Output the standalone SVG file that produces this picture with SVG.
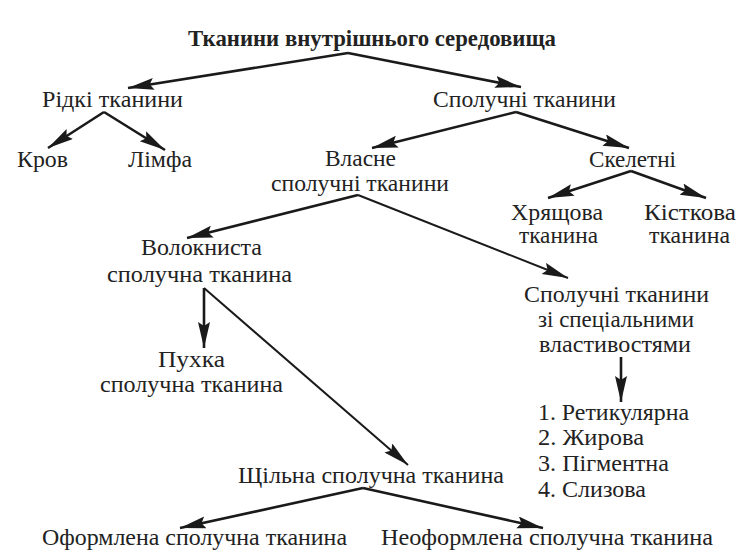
<svg xmlns="http://www.w3.org/2000/svg" width="752" height="559" viewBox="0 0 752 559" font-family="Liberation Serif, DejaVu Serif, serif">
<defs>
<marker id="ah" markerUnits="userSpaceOnUse" markerWidth="28" markerHeight="14" refX="26" refY="6" orient="auto">
<path d="M0,0 L26,6 L0,12 L4,6 z" fill="#1a1a1a"/>
</marker>
<style>
text{font-size:23px;fill:#222;text-anchor:middle}
.t{font-weight:bold}
.l{text-anchor:start}
#connectors line{stroke:#1a1a1a;stroke-width:2.6;marker-end:url(#ah)}
#connectors line.thin{stroke-width:2}
</style>
</defs>
<rect width="752" height="559" fill="#fff"/>
<g id="connectors">
<line x1="348" y1="53" x2="128" y2="88"/>
<line x1="348" y1="53" x2="521" y2="87"/>
<line x1="104" y1="112" x2="48" y2="148"/>
<line x1="104" y1="112" x2="165" y2="150"/>
<line x1="516" y1="112" x2="372" y2="148"/>
<line x1="516" y1="112" x2="629" y2="148"/>
<line x1="631" y1="171" x2="548" y2="198"/>
<line x1="631" y1="171" x2="706" y2="198"/>
<line x1="358" y1="195" x2="187" y2="238"/>
<line class="thin" x1="358" y1="195" x2="568" y2="278"/>
<line x1="204" y1="288" x2="204" y2="348"/>
<line class="thin" x1="204" y1="288" x2="408" y2="465"/>
<line x1="363" y1="488" x2="180" y2="528"/>
<line x1="363" y1="488" x2="543" y2="528"/>
<line x1="621" y1="357" x2="621" y2="402"/>
</g>
<g id="root"><text class="t" x="372" y="46" textLength="368" lengthAdjust="spacingAndGlyphs">Тканини внутрішнього середовища</text></g>
<g id="ridki"><text x="112.5" y="107" textLength="141" lengthAdjust="spacingAndGlyphs">Рідкі тканини</text></g>
<g id="spoluchni"><text x="524.5" y="107" textLength="183" lengthAdjust="spacingAndGlyphs">Сполучні тканини</text></g>
<g id="krov"><text x="42.5" y="167" textLength="51" lengthAdjust="spacingAndGlyphs">Кров</text></g>
<g id="limfa"><text x="160" y="167" textLength="64" lengthAdjust="spacingAndGlyphs">Лімфа</text></g>
<g id="vlasne"><text x="360.5" y="166" textLength="71" lengthAdjust="spacingAndGlyphs">Власне</text><text x="360" y="191" textLength="178" lengthAdjust="spacingAndGlyphs">сполучні тканини</text></g>
<g id="skeletni"><text x="632.5" y="167" textLength="87" lengthAdjust="spacingAndGlyphs">Скелетні</text></g>
<g id="hryashcheva"><text x="557" y="220" textLength="92" lengthAdjust="spacingAndGlyphs">Хрящова</text><text x="558.5" y="243" textLength="79" lengthAdjust="spacingAndGlyphs">тканина</text></g>
<g id="kistkova"><text x="690" y="220" textLength="92" lengthAdjust="spacingAndGlyphs">Кісткова</text><text x="689.5" y="243" textLength="81" lengthAdjust="spacingAndGlyphs">тканина</text></g>
<g id="volokn"><text x="201.5" y="255" textLength="121" lengthAdjust="spacingAndGlyphs">Волокниста</text><text x="199.5" y="282" textLength="185" lengthAdjust="spacingAndGlyphs">сполучна тканина</text></g>
<g id="special"><text x="616.5" y="302" textLength="185" lengthAdjust="spacingAndGlyphs">Сполучні тканини</text><text x="616" y="327" textLength="156" lengthAdjust="spacingAndGlyphs">зі спеціальними</text><text x="615" y="352" textLength="152" lengthAdjust="spacingAndGlyphs">властивостями</text></g>
<g id="pukhka"><text x="191.5" y="367" textLength="67" lengthAdjust="spacingAndGlyphs">Пухка</text><text x="191.5" y="392" textLength="183" lengthAdjust="spacingAndGlyphs">сполучна тканина</text></g>
<g id="list"><text class="l" x="538" y="420" textLength="151" lengthAdjust="spacingAndGlyphs">1. Ретикулярна</text><text class="l" x="538" y="445" textLength="106" lengthAdjust="spacingAndGlyphs">2. Жирова</text><text class="l" x="538" y="471" textLength="131" lengthAdjust="spacingAndGlyphs">3. Пігментна</text><text class="l" x="538" y="497" textLength="108" lengthAdjust="spacingAndGlyphs">4. Слизова</text></g>
<g id="shchilna"><text x="371" y="483" textLength="266" lengthAdjust="spacingAndGlyphs">Щільна сполучна тканина</text></g>
<g id="oformlena"><text x="194.5" y="545" textLength="305" lengthAdjust="spacingAndGlyphs">Оформлена сполучна тканина</text></g>
<g id="neoformlena"><text x="547" y="545" textLength="332" lengthAdjust="spacingAndGlyphs">Неоформлена сполучна тканина</text></g>
</svg>
